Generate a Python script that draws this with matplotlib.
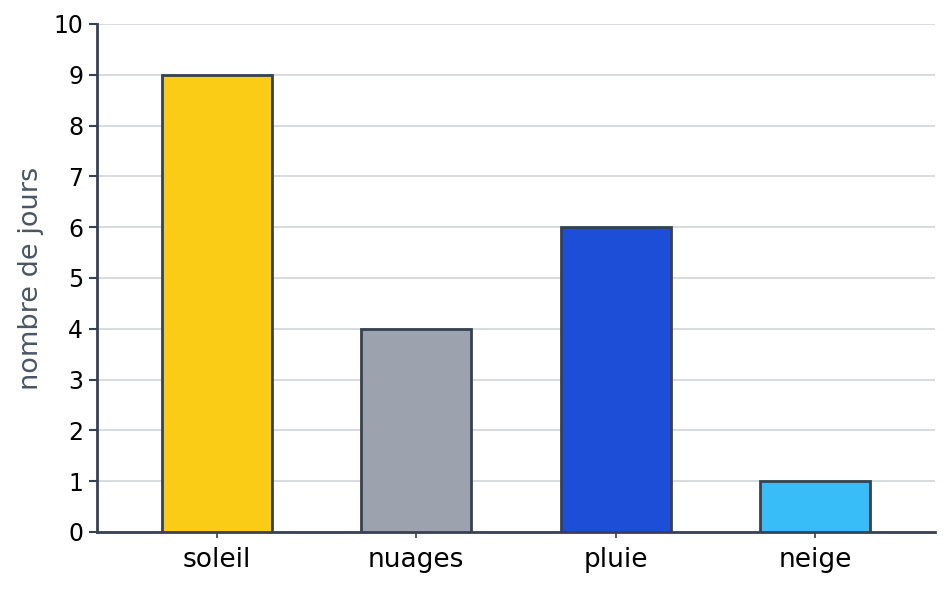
import matplotlib
matplotlib.use("Agg")
import matplotlib.pyplot as plt

plt.rcParams.update({
    "font.family": "DejaVu Sans",
    "font.size": 16,
})

categories = ["soleil", "nuages", "pluie", "neige"]
days = [9, 4, 6, 1]
bar_colors = ["#FACC15", "#9CA3AF", "#1D4ED8", "#38BDF8"]

EDGE = "#374151"

fig = plt.figure(figsize=(9.49, 5.89), dpi=100)
ax = fig.add_axes([0.1022, 0.0968, 0.8831, 0.8625])

x = list(range(len(categories)))
ax.bar(x, days, width=0.55, color=bar_colors, edgecolor=EDGE, linewidth=2, zorder=3)

ax.set_xlim(-0.6, 3.6)
ax.set_ylim(0, 10)
ax.set_yticks(range(0, 11))
ax.set_xticks(x)
ax.set_xticklabels(categories)

ax.grid(axis="y", color="#D1D5DB", linewidth=1.2, zorder=0)
ax.set_axisbelow(True)

for side in ["top", "right"]:
    ax.spines[side].set_visible(False)
for side in ["left", "bottom"]:
    ax.spines[side].set_color(EDGE)
    ax.spines[side].set_linewidth(2)

ax.tick_params(axis="y", colors=EDGE, labelcolor="black", length=6, width=1.5, labelsize=17, pad=4)
ax.tick_params(axis="x", colors=EDGE, labelcolor="black", length=4, width=1.2, labelsize=19, pad=6.5)
ax.set_ylabel("nombre de jours", color="#4B5563", fontsize=19.5, labelpad=7)

fig.savefig("out.png", dpi=100)
